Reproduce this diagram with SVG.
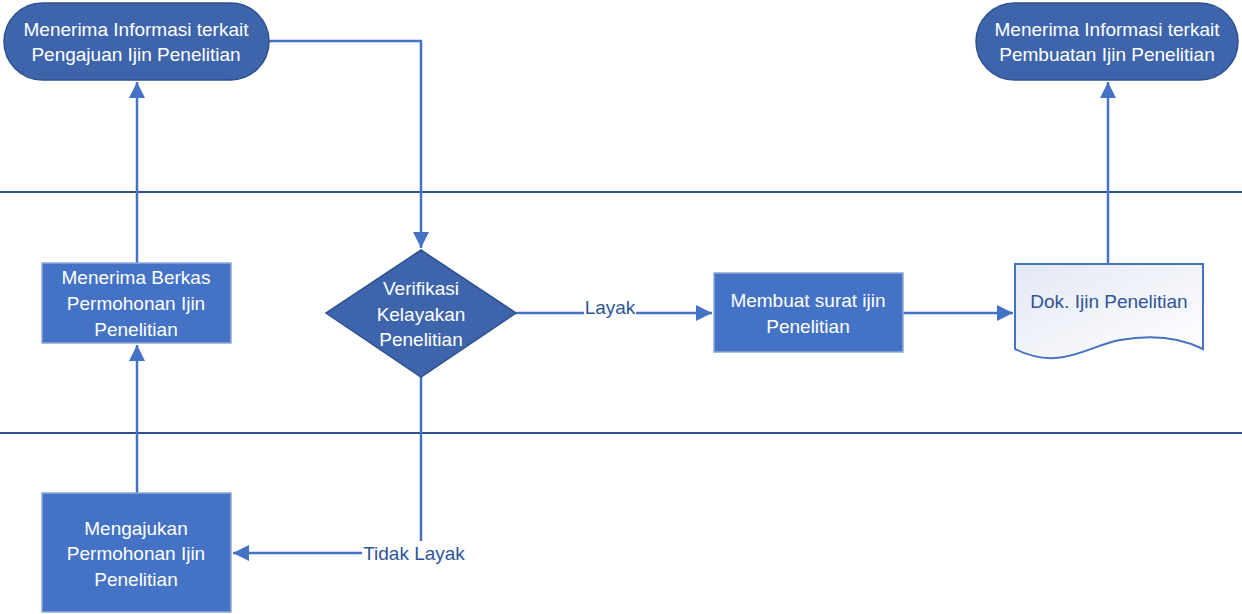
<svg xmlns="http://www.w3.org/2000/svg" width="1242" height="614" viewBox="0 0 1242 614">
<style>
.term{fill:#3e65ac;stroke:#2f528f;stroke-width:1.5}
.proc{fill:#4472c4;stroke:#8fa9d8;stroke-width:1.5}
.dec{fill:#3e65ac;stroke:#2f528f;stroke-width:1.5}
.lane{stroke:#2f528f;stroke-width:2}
.conn{fill:none;stroke:#4472c4;stroke-width:2.5}
text{font-family:"Liberation Sans",Arial,sans-serif;font-size:19px;text-anchor:middle}
.w{fill:#ffffff}
.b{fill:#2f5597}
.lbl{fill:#2f5597}
</style>
<defs>
<marker id="arr" markerUnits="userSpaceOnUse" markerWidth="18" markerHeight="18" refX="16" refY="8" orient="auto">
<path d="M0,0 L16,8 L0,16 Z" fill="#4472c4"/>
</marker>
<linearGradient id="docg" x1="0" y1="0" x2="1" y2="1">
<stop offset="0" stop-color="#e4e8f4"/>
<stop offset="1" stop-color="#ffffff"/>
</linearGradient>
</defs>
<line class="lane" x1="0" y1="192" x2="1242" y2="192"/>
<line class="lane" x1="0" y1="433" x2="1242" y2="433"/>
<g id="connectors">
<path class="conn" d="M137,263 V82" marker-end="url(#arr)"/>
<path class="conn" d="M137,493 V345" marker-end="url(#arr)"/>
<path class="conn" d="M269,41 H421 V248" marker-end="url(#arr)"/>
<path class="conn" d="M516,313 H584 M636,313 H712" marker-end="url(#arr)"/>
<path class="conn" d="M421,377 V541"/>
<path class="conn" d="M362,553 H233" marker-end="url(#arr)"/>
<path class="conn" d="M903,313 H1013" marker-end="url(#arr)"/>
<path class="conn" d="M1108,264 V82" marker-end="url(#arr)"/>
<text class="lbl" x="610" y="314">Layak</text>
<text class="lbl" x="414" y="560">Tidak Layak</text>
</g>
<g id="term1">
<rect class="term" x="4" y="3" width="265" height="77" rx="38.5"/>
<text class="w" x="136" y="36">Menerima Informasi terkait</text>
<text class="w" x="136" y="61">Pengajuan Ijin Penelitian</text>
</g>
<g id="term2">
<rect class="term" x="976" y="3" width="262" height="77" rx="38.5"/>
<text class="w" x="1107" y="36">Menerima Informasi terkait</text>
<text class="w" x="1107" y="61">Pembuatan Ijin Penelitian</text>
</g>
<g id="berkas">
<rect class="proc" x="42" y="263" width="189" height="80"/>
<text class="w" x="136" y="284">Menerima Berkas</text>
<text class="w" x="136" y="310">Permohonan Ijin</text>
<text class="w" x="136" y="336">Penelitian</text>
</g>
<g id="mengajukan">
<rect class="proc" x="42" y="493" width="189" height="119"/>
<text class="w" x="136" y="535">Mengajukan</text>
<text class="w" x="136" y="560">Permohonan Ijin</text>
<text class="w" x="136" y="586">Penelitian</text>
</g>
<g id="verifikasi">
<path class="dec" d="M421,250 L516,313 L421,377 L326,313 Z"/>
<text class="w" x="421" y="295">Verifikasi</text>
<text class="w" x="421" y="321">Kelayakan</text>
<text class="w" x="421" y="346">Penelitian</text>
</g>
<g id="membuat">
<rect class="proc" x="714" y="273" width="189" height="79"/>
<text class="w" x="808" y="307">Membuat surat ijin</text>
<text class="w" x="808" y="333">Penelitian</text>
</g>
<g id="dok">
<path d="M1015,264 H1203 V349 C1185,340 1160,333 1120,340 C1090,345 1060,372 1015,349 Z" fill="url(#docg)" stroke="#4472c4" stroke-width="2"/>
<text class="b" x="1109" y="308">Dok. Ijin Penelitian</text>
</g>
</svg>
